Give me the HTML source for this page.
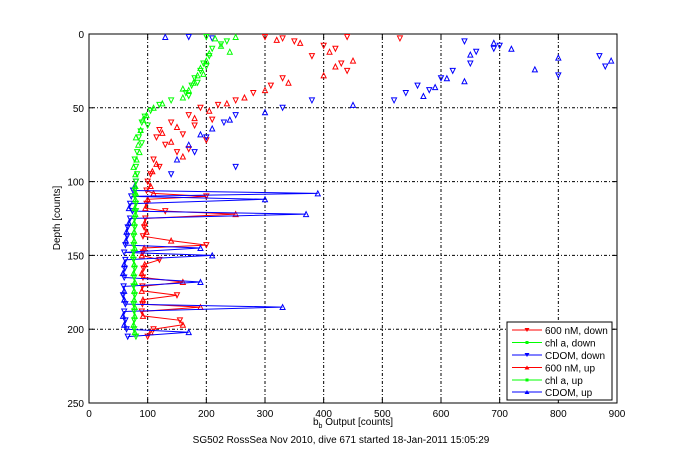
<!DOCTYPE html>
<html><head><meta charset="utf-8"><style>
body{margin:0;background:#fff;}
svg{display:block;font-family:"Liberation Sans",sans-serif;}
</style></head><body>
<svg id="chart" width="681" height="454">
<rect width="681" height="454" fill="#fff"/>
<g id="marks"></g>
<g font-family="Liberation Sans, sans-serif" font-size="10">
<rect x="507" y="322" width="105" height="78" fill="#fff" stroke="#000"/>
<g><line x1="512" y1="330" x2="542" y2="330" stroke="#f00"/><polygon points="524.5,328 529.5,328 527,332" fill="#f00"/><text x="545" y="334">600 nM, down</text></g>
<g><line x1="512" y1="342.5" x2="542" y2="342.5" stroke="#0f0"/><rect x="525.5" y="341" width="3" height="3" fill="#0f0"/><text x="545" y="346.5">chl a, down</text></g>
<g><line x1="512" y1="355" x2="542" y2="355" stroke="#00f"/><polygon points="524.5,353 529.5,353 527,357" fill="#00f"/><text x="545" y="359">CDOM, down</text></g>
<g><line x1="512" y1="367.5" x2="542" y2="367.5" stroke="#f00"/><polygon points="524.5,369.5 529.5,369.5 527,365.5" fill="#f00"/><text x="545" y="371.5">600 nM, up</text></g>
<g><line x1="512" y1="380" x2="542" y2="380" stroke="#0f0"/><rect x="525.5" y="378.5" width="3" height="3" fill="#0f0"/><text x="545" y="384">chl a, up</text></g>
<g><line x1="512" y1="392" x2="542" y2="392" stroke="#00f"/><polygon points="524.5,394 529.5,394 527,390" fill="#00f"/><text x="545" y="396">CDOM, up</text></g>
</g>
<text x="353" y="425" font-size="10" text-anchor="middle">b<tspan font-size="7" dy="3">b</tspan><tspan dy="-3"> Output [counts]</tspan></text>
<text transform="translate(60,218) rotate(-90)" font-size="10" text-anchor="middle">Depth [counts]</text>
<text x="341" y="443" font-size="10" text-anchor="middle">SG502 RossSea Nov 2010, dive 671 started 18-Jan-2011 15:05:29</text>
</svg>
<script>
const xTicks=[0,100,200,300,400,500,600,700,800,900];
const yTicks=[0,50,100,150,200,250];
const redDownDepth=[2,3,5,8,2,3,10,15,20,25,30,35,40,45,48,50,55,60,65,70,75,80,85,90,95,58,62,68,72,78];
const redDownVal=[300,330,350,400,440,530,420,380,430,440,330,310,280,250,220,190,170,140,120,115,130,150,110,120,105,210,180,160,200,170];
const redUpDepth=[4,6,12,18,22,28,33,38,43,47,52,57,63,67,73,83,88,93];
const redUpVal=[320,360,410,450,420,400,340,300,265,235,205,180,150,125,140,160,115,108];
const blueDownDepth=[2,5,8,10,15,20,25,30,35,40,45,22,28,45,50,55,60,70,80,90,95,3,12,38];
const blueDownVal=[170,640,700,690,870,650,620,600,560,540,520,880,800,380,330,250,230,200,180,250,140,210,660,580];
const blueUpDepth=[2,6,10,14,18,24,30,36,42,48,53,58,64,68,75,85,32,16];
const blueUpVal=[130,690,720,650,890,760,610,590,570,450,300,240,210,190,170,150,640,800];
const greenDownDepth=[2,5,10,15,20,25,30,35,40,45,48,52,56,60,70,80,90,7,22,33,42,62,66,74,85,95];
const greenDownVal=[200,235,210,205,195,190,180,175,165,140,120,105,95,90,85,82,80,225,200,185,170,100,88,90,78,82];
const greenUpDepth=[3,8,13,18,23,28,33,38,43,50,55,65,75,85,95,2,12,27,37,47,58,70,80,90];
const greenUpVal=[215,225,205,200,190,185,178,170,160,110,98,88,84,81,79,250,240,195,160,125,92,80,86,76];
const lineDepth=[100,103,106,108,110,112,115,118,120,122,125,128,131,134,137,140,143,145,148,150,153,156,159,162,165,168,171,174,177,180,183,185,188,191,194,197,200,202,205];
const blueLineVal=[80,78,75,390,72,300,70,68,74,370,70,68,66,64,65,63,62,190,60,210,62,60,61,58,60,190,59,60,58,60,62,330,60,58,62,60,64,170,66];
const redLineVal=[100,105,98,110,200,100,98,96,130,250,96,95,94,98,92,140,200,94,92,90,120,95,93,90,92,160,91,90,150,92,91,190,90,92,155,160,110,105,100];
const greenLineVal=[80,79,78,80,78,79,80,78,80,79,78,77,78,77,76,77,76,78,76,75,76,77,78,76,77,78,76,77,78,77,76,78,77,78,77,76,77,78,80];

const layer=document.getElementById('marks');
const NS='http://www.w3.org/2000/svg';
const L=89,R=617,T=34,B=403;
const sx=v=>L+(v/900)*(R-L);
const sy=d=>T+(d/250)*(B-T);
function mk(tag,attrs){const e=document.createElementNS(NS,tag);for(const k in attrs)e.setAttribute(k,attrs[k]);layer.appendChild(e);return e;}
mk('rect',{x:L,y:T,width:R-L,height:B-T,fill:'#fff',stroke:'none'});
xTicks.forEach(t=>{
  const x=sx(t);
  if(t>0&&t<900){const g=mk('line',{x1:x,y1:T,x2:x,y2:B,stroke:'#000','stroke-width':1,'stroke-dasharray':'1,2,3,2'});
  
  }
  const tx=mk('text',{x:x,y:B+14,'font-size':10,'text-anchor':'middle'});tx.textContent=t;
  
  
  mk('line',{x1:x,y1:B,x2:x,y2:B-4,stroke:'#000'});mk('line',{x1:x,y1:T,x2:x,y2:T+4,stroke:'#000'});
});
yTicks.forEach(t=>{
  const y=sy(t);
  if(t>0&&t<250){const g=mk('line',{x1:L,y1:y,x2:R,y2:y,stroke:'#000','stroke-width':1,'stroke-dasharray':'1,2,3,2'});
  
  }
  const tx=mk('text',{x:L-5,y:y+4,'font-size':10,'text-anchor':'end'});tx.textContent=t;
  
  
  mk('line',{x1:L,y1:y,x2:L+4,y2:y,stroke:'#000'});mk('line',{x1:R,y1:y,x2:R-4,y2:y,stroke:'#000'});
});
const frame=mk('rect',{x:L,y:T,width:R-L,height:B-T,fill:'none',stroke:'#000'});


function tri(x,y,down,col){
  const s=2.5;
  const p=down?`${x-s},${y-s} ${x+s},${y-s} ${x},${y+s}`:`${x-s},${y+s} ${x+s},${y+s} ${x},${y-s}`;
  const e=mk('polygon',{points:p,fill:'none',stroke:col,'stroke-width':1});
  
  
}
function line(depths,vals,col,name){
  const d=depths.map((dd,i)=>(i?'L':'M')+sx(vals[i]).toFixed(1)+','+sy(dd).toFixed(1)).join('');
  const e=mk('path',{d:d,fill:'none',stroke:col,'stroke-width':1});
  
  
  depths.forEach((dd,i)=>tri(sx(vals[i]),sy(dd),i%2==0,col));
}
const RED='#f00',GRN='#0f0',BLU='#00f';
line(lineDepth,redLineVal,RED,'red-600nm-line');
line(lineDepth,blueLineVal,BLU,'blue-cdom-line');
line(lineDepth,greenLineVal,GRN,'green-chla-line');
redDownDepth.forEach((d,i)=>tri(sx(redDownVal[i]),sy(d),true,RED));
redUpDepth.forEach((d,i)=>tri(sx(redUpVal[i]),sy(d),false,RED));
blueDownDepth.forEach((d,i)=>tri(sx(blueDownVal[i]),sy(d),true,BLU));
blueUpDepth.forEach((d,i)=>tri(sx(blueUpVal[i]),sy(d),false,BLU));
greenDownDepth.forEach((d,i)=>tri(sx(greenDownVal[i]),sy(d),true,GRN));
greenUpDepth.forEach((d,i)=>tri(sx(greenUpVal[i]),sy(d),false,GRN));
</script>
</body></html>
